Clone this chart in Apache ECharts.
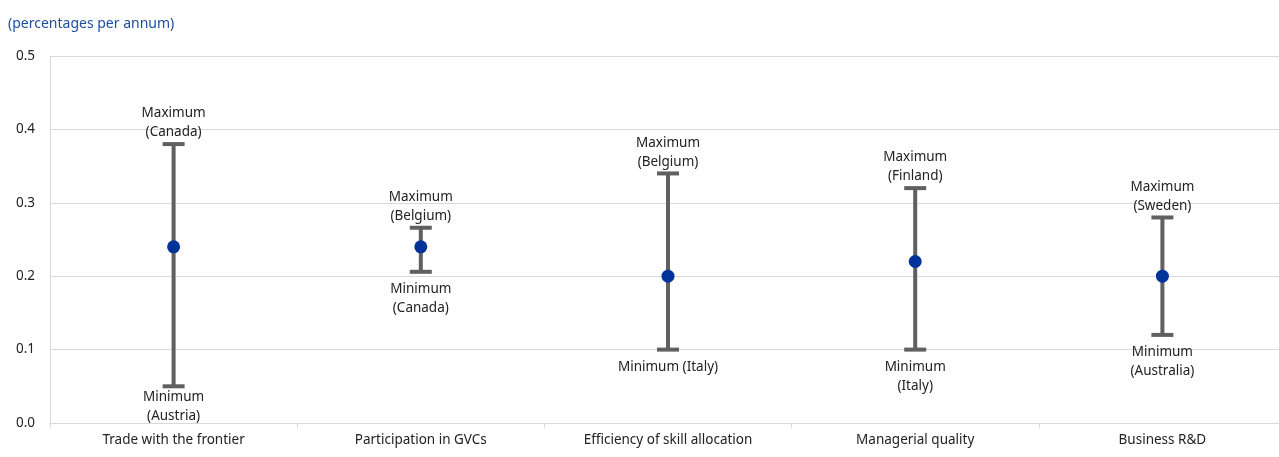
<!DOCTYPE html>
<html>
<head>
<meta charset="utf-8">
<script src="https://cdn.jsdelivr.net/npm/echarts@6/dist/echarts.min.js"></script>
<style>
  html, body { margin: 0; padding: 0; background: #fff; overflow: hidden; }
  #chart { width: 1287px; height: 457px; }
</style>
</head>
<body>
<div id="chart"></div>
<script>
var categories = ['Trade with the frontier', 'Participation in GVCs', 'Efficiency of skill allocation', 'Managerial quality', 'Business R&D'];
var meanValues = [0.24, 0.24, 0.20, 0.22, 0.20];
var maxValues = [0.38, 0.266, 0.34, 0.32, 0.28];
var minValues = [0.05, 0.206, 0.10, 0.10, 0.12];
var maxLabels = ['Maximum\n(Canada)', 'Maximum\n(Belgium)', 'Maximum\n(Belgium)', 'Maximum\n(Finland)', 'Maximum\n(Sweden)'];
var minLabels = ['Minimum\n(Austria)', 'Minimum\n(Canada)', 'Minimum (Italy)', 'Minimum\n(Italy)', 'Minimum\n(Australia)'];

var FONT = '"Noto Sans", sans-serif';
var rangeData = categories.map(function (c, i) {
    return [i, minValues[i], maxValues[i]];
});

var renderRange = function (params, api) {
    var i = api.value(0);
    var lo = api.coord([i, api.value(1)]);
    var hi = api.coord([i, api.value(2)]);
    var bottom = params.coordSys.y + params.coordSys.height;
    var half = 11;
    var lineStyle = { stroke: '#606060', lineWidth: 4 };
    // keep the min label clear of the category axis labels
    var minTop = Math.min(lo[1] + 8, bottom - 35);
    return {
        type: 'group',
        children: [
            { type: 'line', shape: { x1: hi[0], y1: hi[1], x2: lo[0], y2: lo[1] }, style: lineStyle },
            { type: 'line', shape: { x1: hi[0] - half, y1: hi[1], x2: hi[0] + half, y2: hi[1] }, style: lineStyle },
            { type: 'line', shape: { x1: lo[0] - half, y1: lo[1], x2: lo[0] + half, y2: lo[1] }, style: lineStyle },
            {
                type: 'text',
                style: {
                    text: maxLabels[i], x: hi[0], y: hi[1] - 2,
                    align: 'center', verticalAlign: 'bottom',
                    font: '13.5px ' + FONT, fill: '#222', lineHeight: 19
                }
            },
            {
                type: 'text',
                style: {
                    text: minLabels[i], x: lo[0], y: minTop,
                    align: 'center', verticalAlign: 'top',
                    font: '13.5px ' + FONT, fill: '#222', lineHeight: 19
                }
            }
        ]
    };
};

var option = {
    animation: false,
    title: {
        text: '(percentages per annum)',
        left: 3,
        top: 12,
        textStyle: { color: '#1f4ea0', fontSize: 14, fontWeight: 'normal', fontFamily: FONT }
    },
    grid: { left: 50, top: 56, right: 1, height: 367 },
    xAxis: {
        type: 'category',
        data: categories,
        boundaryGap: true,
        axisLine: { lineStyle: { color: '#d9d9d9', width: 1 } },
        axisTick: { show: true, interval: 0, length: 5, lineStyle: { color: '#d9d9d9' } },
        axisLabel: { color: '#222', fontSize: 13.5, fontFamily: FONT, margin: 10, interval: 0 }
    },
    yAxis: {
        type: 'value',
        min: 0,
        max: 0.5,
        interval: 0.1,
        axisLine: { show: true, lineStyle: { color: '#d9d9d9' } },
        axisTick: { show: false },
        splitLine: { lineStyle: { color: '#d9d9d9' } },
        axisLabel: {
            color: '#222', fontSize: 13.5, fontFamily: FONT, margin: 15,
            formatter: function (v) { return v.toFixed(1); }
        }
    },
    series: [
        {
            type: 'custom',
            renderItem: renderRange,
            data: rangeData,
            encode: { x: 0, y: [1, 2] },
            z: 2
        },
        {
            type: 'scatter',
            data: meanValues,
            symbol: 'circle',
            symbolSize: 13,
            itemStyle: { color: '#003399', opacity: 1 },
            z: 3
        }
    ]
};
echarts.init(document.getElementById('chart')).setOption(option);
</script>
</body>
</html>
